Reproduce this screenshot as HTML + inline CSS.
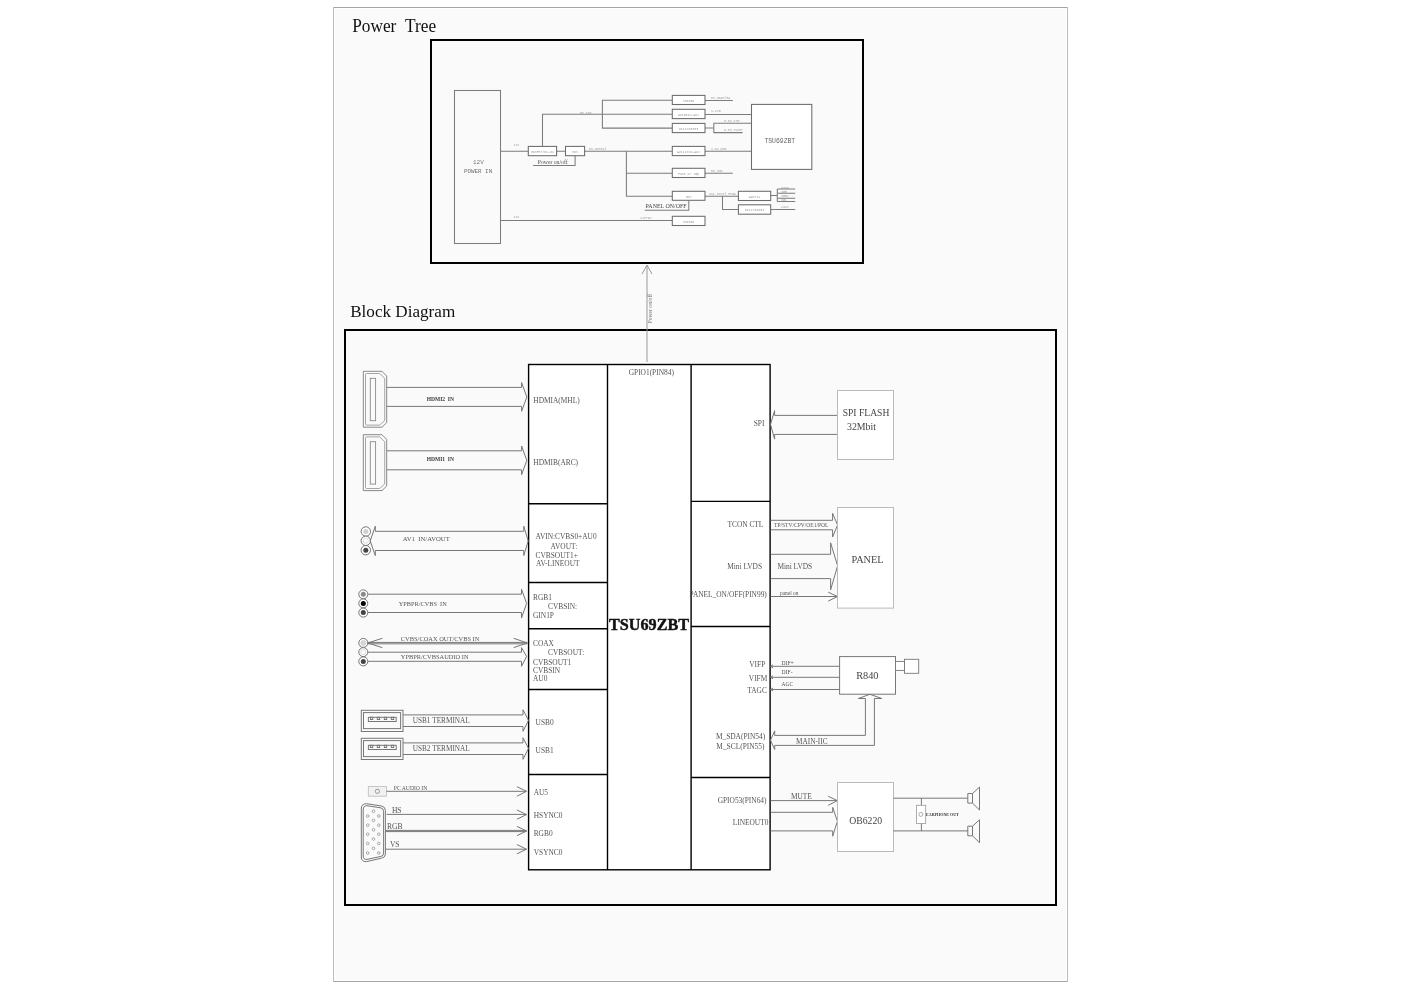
<!DOCTYPE html>
<html><head><meta charset="utf-8"><title>Power Tree / Block Diagram</title>
<style>
html,body{margin:0;padding:0;background:#fff;width:1404px;height:992px;overflow:hidden}
svg{display:block;position:absolute;left:0;top:0;will-change:transform}
svg{font-family:"Liberation Serif",serif}
.mono,.mono text{font-family:"Liberation Mono",monospace}
.ln{stroke:#777;stroke-width:1;fill:none}
.lp{stroke:#7c7c7c;stroke-width:1.05;fill:none}
.bx{stroke:#6c6c6c;stroke-width:1.05;fill:#fff}
.k{stroke:#000;fill:none}
.t{fill:#555}
</style></head>
<body>
<svg width="1404" height="992" viewBox="0 0 1404 992">
<!-- page frame -->
<rect x="333" y="7" width="735" height="975" fill="#fff"/>
<path d="M333 7.5H1068M333 981.5H1068" stroke="#a4a4a4" stroke-width="1"/>
<path d="M333.5 7V982M1067.5 7V982" stroke="#bcbcbc" stroke-width="1"/>
<rect x="335" y="9" width="731" height="971" fill="#fafafa"/>

<!-- titles -->
<text x="352.2" y="31.9" font-size="17.8" fill="#111" textLength="83.9" lengthAdjust="spacingAndGlyphs">Power&#160;&#160;Tree</text>
<text x="350.2" y="316.6" font-size="17.4" fill="#111" textLength="105" lengthAdjust="spacingAndGlyphs">Block Diagram</text>

<!-- big frames -->
<rect x="431" y="40" width="432" height="223" class="k" stroke-width="2"/>
<rect x="345" y="330" width="711" height="575" class="k" stroke-width="2"/>

<!-- POWER_TREE -->
<g class="lp">
<rect x="454.5" y="90.5" width="46" height="153"/>
<path d="M500.5 151.3H528.3M556.6 151.3H565.5M584.6 151.3H672.3M542.5 146.4V114.3H672.3"/>
<path d="M533.1 165.5H575.1V155.7"/>
<path d="M672.3 100.3H602.4V128.1H672.3"/>
<path d="M626.4 151.3V196.3H672.3M626.4 173.2H672.3"/>
<path d="M500.5 220.5H672.3"/>
<path d="M644.7 210.2H688.8V200.3"/>
<path d="M705 100.4H732.8M705 114.4H751.5M705 128H713.8M742.6 132.6H713.8V123.2H751.5M705 151.3H751.5M705 173.2H732.8M705 196.3H738.4M722.5 196.3V209.4H738.4"/>
<path d="M770.7 195.5H777.3M777.3 189V201.4M777.3 189H795.2M777.3 193.3H795.2M777.3 198.2H795.2M777.3 201.4H795.2M770.7 209.4H795.2"/>
</g>
<g class="bx">
<rect x="528.3" y="146.4" width="28.3" height="9.3"/>
<rect x="565.5" y="146.4" width="19.1" height="9.3"/>
<rect x="672.3" y="95.4" width="32.7" height="9.1"/>
<rect x="672.3" y="109.3" width="32.7" height="9.3"/>
<rect x="672.3" y="123.4" width="32.7" height="9.2"/>
<rect x="672.3" y="146.4" width="32.7" height="9.2"/>
<rect x="672.3" y="168.3" width="32.7" height="9.2"/>
<rect x="672.3" y="191.3" width="32.7" height="9"/>
<rect x="672.3" y="216.3" width="32.7" height="9.2"/>
<rect x="751.5" y="104.4" width="60.3" height="65"/>
<rect x="738.4" y="191.3" width="32.3" height="9.2"/>
<rect x="738.4" y="204.8" width="32.3" height="9.4"/>
</g>
<g class="mono" fill="#666" font-size="6">
<text x="478.4" y="163.8" text-anchor="middle" fill="#7a7a7a">12V</text>
<text x="478.05" y="173" text-anchor="middle" fill="#707070" textLength="28.3" lengthAdjust="spacingAndGlyphs">POWER IN</text>
<text x="779.8" y="143" text-anchor="middle" font-size="6.4">TSU69ZBT</text>
</g>
<g class="mono" fill="#999" font-size="3.2">
<text x="513.5" y="145.8">12V</text>
<text x="513.5" y="218">12V</text>
<text x="580" y="113.5">5V_STB</text>
<text x="589" y="149.5">5V_Normal</text>
<text x="711" y="98.5">5V_MAIN/3A</text>
<text x="711" y="112.4">1.2VD</text>
<text x="724" y="121.5">3.3V_STB</text>
<text x="724" y="130.8">3.3V_Tuner</text>
<text x="711" y="149.5">1.8V_DDR</text>
<text x="711" y="171.5">5V_USB</text>
<text x="709" y="194.5">VCC_Panel_FIOW</text>
<text x="640" y="218.5">12VT1N</text>
<text x="781" y="188.5">AVDD</text>
<text x="781" y="192.6">VGH</text>
<text x="781" y="197.2">VGHX</text>
<text x="781" y="200.6">VGL</text>
<text x="781" y="207.6">24VX</text>
<text x="688.5" y="102.2" text-anchor="middle">SM4509</text>
<text x="688.5" y="115.9" text-anchor="middle">AZ1084S-ADJ</text>
<text x="688.5" y="130" text-anchor="middle">DC1170ZZ03</text>
<text x="688.5" y="152.9" text-anchor="middle">AZ1117CD-ADJ</text>
<text x="688.5" y="174.9" text-anchor="middle">FUSE or Jmp</text>
<text x="688.5" y="197.8" text-anchor="middle">MOS</text>
<text x="688.5" y="222.9" text-anchor="middle">SM4509</text>
<text x="542.4" y="152.5" text-anchor="middle">MOSFET/DC-DC</text>
<text x="575" y="153" text-anchor="middle">MOS</text>
<text x="754.5" y="197.7" text-anchor="middle">AAM711</text>
<text x="754.5" y="211.3" text-anchor="middle">DC1170ZZ03</text>
</g>
<text x="537.8" y="164" font-size="6" fill="#555" textLength="29.8" lengthAdjust="spacingAndGlyphs">Power on/off</text>
<text x="645.6" y="208.2" font-size="6.8" fill="#444" textLength="41" lengthAdjust="spacingAndGlyphs">PANEL ON/OFF</text>
<path d="M647 265V362M642 274.1L647 265L652 274.1" stroke="#9a9a9a" stroke-width="1" fill="none"/>
<text transform="translate(652.3,323.5) rotate(-90)" font-size="5.6" fill="#707070" textLength="29.6" lengthAdjust="spacingAndGlyphs">Power on/off</text>


<!-- BLOCK_DIAGRAM -->
<rect x="528.6" y="364.5" width="241.5" height="505.3" fill="#fff" stroke="#000" stroke-width="1.4"/>
<path d="M607.5 364.5V869.8M691.1 364.5V869.8M528.5 503.8H607.5M528.5 582.5H607.5M528.5 628.8H607.5M528.5 689.5H607.5M528.5 774.5H607.5M691.1 501.4H770.1M691.1 626.5H770.1M691.1 777.5H770.1" stroke="#000" stroke-width="1.4" fill="none"/>
<text x="533.3" y="402.6" font-size="7.4" fill="#555">HDMIA(MHL)</text>
<text x="533.3" y="465" font-size="7.4" fill="#555">HDMIB(ARC)</text>
<text x="535.5" y="539.3" font-size="7.4" fill="#555">AVIN:CVBS0+AU0</text>
<text x="550.6" y="549" font-size="7.4" fill="#555">AVOUT:</text>
<text x="535.5" y="558" font-size="7.4" fill="#555">CVBSOUT1+</text>
<text x="536" y="565.7" font-size="7.4" fill="#555">AV-LINEOUT</text>
<text x="533" y="600" font-size="7.4" fill="#555">RGB1</text>
<text x="548" y="609.1" font-size="7.4" fill="#555">CVBSIN:</text>
<text x="533" y="618.1" font-size="7.4" fill="#555">GIN1P</text>
<text x="533" y="646.1" font-size="7.4" fill="#555">COAX</text>
<text x="548" y="655.2" font-size="7.4" fill="#555">CVBSOUT:</text>
<text x="533" y="664.5" font-size="7.4" fill="#555">CVBSOUT1</text>
<text x="533" y="673" font-size="7.4" fill="#555">CVBSIN</text>
<text x="533" y="680.6" font-size="7.4" fill="#555">AU0</text>
<text x="535.6" y="725.3" font-size="7.4" fill="#555">USB0</text>
<text x="535.6" y="752.8" font-size="7.4" fill="#555">USB1</text>
<text x="533.7" y="794.5" font-size="7.4" fill="#555">AU5</text>
<text x="533.7" y="817.6" font-size="7.4" fill="#555">HSYNC0</text>
<text x="533.7" y="835.9" font-size="7.4" fill="#555">RGB0</text>
<text x="533.7" y="854.7" font-size="7.4" fill="#555">VSYNC0</text>
<text x="628.7" y="374.8" font-size="7.4" fill="#555">GPIO1(PIN84)</text>
<text x="609" y="629.9" font-size="17.4" fill="#111" font-weight="bold" stroke="#111" stroke-width="0.45" textLength="80" lengthAdjust="spacingAndGlyphs">TSU69ZBT</text>
<text x="764.4" y="425.7" font-size="7.4" fill="#555" text-anchor="end">SPI</text>
<text x="763.4" y="526.5" font-size="7.4" fill="#555" text-anchor="end">TCON CTL</text>
<text x="762" y="569" font-size="7.4" fill="#555" text-anchor="end">Mini LVDS</text>
<text x="766.8" y="596.7" font-size="7.4" fill="#555" text-anchor="end">PANEL_ON/OFF(PIN99)</text>
<text x="765.3" y="667" font-size="7.4" fill="#555" text-anchor="end">VIFP</text>
<text x="767.3" y="681.2" font-size="7.4" fill="#555" text-anchor="end">VIFM</text>
<text x="766.9" y="692.6" font-size="7.4" fill="#555" text-anchor="end">TAGC</text>
<text x="765.2" y="738.8" font-size="7.4" fill="#555" text-anchor="end">M_SDA(PIN54)</text>
<text x="764.4" y="748.6" font-size="7.4" fill="#555" text-anchor="end">M_SCL(PIN55)</text>
<text x="766.5" y="802.5" font-size="7.4" fill="#555" text-anchor="end">GPIO53(PIN64)</text>
<text x="768.4" y="824.5" font-size="7.4" fill="#555" text-anchor="end">LINEOUT0</text>
<path fill="none" stroke="#7a7a7a" stroke-width="0.9" d="M363.3 371.3 H382 L386.7 376 V422.6 L382 427.2 H363.3 Z"/>
<path fill="none" stroke="#9c9c9c" stroke-width="0.9" d="M366.5 373.5 H379.6 L384.7 378.3 V420.6 L379.6 425.1 H366.5 Q365.5 425.1 365.5 424.1 V374.5 Q365.5 373.5 366.5 373.5 Z"/>
<rect fill="none" stroke="#8a8a8a" stroke-width="0.9" x="370.3" y="378.3" width="5.3" height="42.4"/>
<path class="ln" d="M386.7 387.4H521.6V382.6L526.8 397L521.6 411.3V406.4H386.7"/>
<path fill="none" stroke="#7a7a7a" stroke-width="0.9" d="M363.3 434.7 H382 L386.7 439.4 V486 L382 490.6 H363.3 Z"/>
<path fill="none" stroke="#9c9c9c" stroke-width="0.9" d="M366.5 436.9 H379.6 L384.7 441.7 V484 L379.6 488.5 H366.5 Q365.5 488.5 365.5 487.5 V437.9 Q365.5 436.9 366.5 436.9 Z"/>
<rect fill="none" stroke="#8a8a8a" stroke-width="0.9" x="370.3" y="441.7" width="5.3" height="42.4"/>
<path class="ln" d="M386.7 450.8H521.6V446L526.8 460.4L521.6 474.7V469.8H386.7"/>
<text x="426.7" y="400.8" font-size="6.9" fill="#3a3a3a" font-weight="bold" textLength="27.3" lengthAdjust="spacingAndGlyphs">HDMI2&#160;&#160;IN</text>
<text x="426.7" y="460.8" font-size="6.9" fill="#3a3a3a" font-weight="bold" textLength="27.3" lengthAdjust="spacingAndGlyphs">HDMI1&#160;&#160;IN</text>
<circle cx="365.8" cy="531.5" r="4.7" fill="#fff" stroke="#666" stroke-width="0.9"/>
<circle cx="365.8" cy="531.5" r="2.5" fill="#d0d0d0" stroke="none"/>
<circle cx="365.8" cy="540.8" r="4.7" fill="#fff" stroke="#666" stroke-width="0.9"/>
<circle cx="365.8" cy="540.8" r="2.5" fill="#fff" stroke="#c4c4c4" stroke-width="0.6"/>
<circle cx="365.8" cy="550.2" r="4.7" fill="#fff" stroke="#666" stroke-width="0.9"/>
<circle cx="365.8" cy="550.2" r="2.5" fill="#444" stroke="none"/>
<circle cx="363.3" cy="594.3" r="4.5" fill="#fff" stroke="#666" stroke-width="0.9"/>
<circle cx="363.3" cy="594.3" r="2.5" fill="#8a8a8a" stroke="none"/>
<circle cx="363.3" cy="603.4" r="4.5" fill="#fff" stroke="#666" stroke-width="0.9"/>
<circle cx="363.3" cy="603.4" r="2.5" fill="#000" stroke="none"/>
<circle cx="363.3" cy="612.6" r="4.5" fill="#fff" stroke="#666" stroke-width="0.9"/>
<circle cx="363.3" cy="612.6" r="2.5" fill="#444" stroke="none"/>
<circle cx="363.3" cy="642.9" r="4.5" fill="#fff" stroke="#666" stroke-width="0.9"/>
<circle cx="363.3" cy="642.9" r="2.5" fill="#d8d8d8" stroke="#c4c4c4" stroke-width="0.6"/>
<circle cx="363.3" cy="652.1" r="4.5" fill="#fff" stroke="#666" stroke-width="0.9"/>
<circle cx="363.3" cy="652.1" r="2.5" fill="#fff" stroke="#c4c4c4" stroke-width="0.6"/>
<circle cx="363.3" cy="661.4" r="4.5" fill="#fff" stroke="#666" stroke-width="0.9"/>
<circle cx="363.3" cy="661.4" r="2.5" fill="#444" stroke="none"/>
<path class="ln" d="M375.3 531.3H523.8V526.2L528.2 540.9L523.8 555.5V550.5H375.3V555.6L370.2 540.9L375.3 526.2Z"/>
<text x="402.8" y="541" font-size="6.5" fill="#555" textLength="47" lengthAdjust="spacingAndGlyphs">AV1&#160;&#160;IN/AVOUT</text>
<path class="ln" d="M368 594.2H521.5V589.1L526.6 603.4L521.5 618V612.5H368"/>
<text x="398.8" y="605.9" font-size="6.3" fill="#555">YPBPR/CVBS&#160;&#160;IN</text>
<path class="ln" d="M367.7 642.4H527.4M367.7 643.8H527.4M382.3 638.3L367.7 643L382.3 647.6M513.7 638.3L527.4 643L513.7 647.6"/>
<text x="400.8" y="641.4" font-size="6.3" fill="#555" textLength="78.6" lengthAdjust="spacingAndGlyphs">CVBS/COAX OUT/CVBS IN</text>
<path class="ln" d="M368 652.2H521.5V647.6L526.6 656.5L521.5 666.3V661.3H368"/>
<text x="400.8" y="659.4" font-size="6.3" fill="#555" textLength="67.7" lengthAdjust="spacingAndGlyphs">YPBPR/CVBSAUDIO IN</text>
<rect class="ln" stroke-width="0.9" x="361.3" y="710.3" width="41.7" height="21.2"/>
<rect class="ln" stroke-width="0.9" x="363.5" y="712.6" width="37.1" height="16"/>
<rect class="ln" stroke-width="0.9" x="368.4" y="717.3" width="27.8" height="4.2"/>
<rect class="ln" stroke-width="0.7" x="370.45" y="717.3" width="2.3" height="2.2"/>
<rect class="ln" stroke-width="0.7" x="377.35" y="717.3" width="2.3" height="2.2"/>
<rect class="ln" stroke-width="0.7" x="384.35" y="717.3" width="2.3" height="2.2"/>
<rect class="ln" stroke-width="0.7" x="391.35" y="717.3" width="2.3" height="2.2"/>
<path class="ln" d="M403 714.9H523V709.8L528.5 720.4L523 731.3V726.5H403"/>
<text x="412.7" y="722.9" font-size="8.3" fill="#555" textLength="57.1" lengthAdjust="spacingAndGlyphs">USB1 TERMINAL</text>
<rect class="ln" stroke-width="0.9" x="361.3" y="738.3" width="41.7" height="21.2"/>
<rect class="ln" stroke-width="0.9" x="363.5" y="740.6" width="37.1" height="16"/>
<rect class="ln" stroke-width="0.9" x="368.4" y="745.3" width="27.8" height="4.2"/>
<rect class="ln" stroke-width="0.7" x="370.45" y="745.3" width="2.3" height="2.2"/>
<rect class="ln" stroke-width="0.7" x="377.35" y="745.3" width="2.3" height="2.2"/>
<rect class="ln" stroke-width="0.7" x="384.35" y="745.3" width="2.3" height="2.2"/>
<rect class="ln" stroke-width="0.7" x="391.35" y="745.3" width="2.3" height="2.2"/>
<path class="ln" d="M403 742.9H523V737.8L528.5 748.4L523 759.3V754.5H403"/>
<text x="412.7" y="750.9" font-size="8.3" fill="#555" textLength="57.1" lengthAdjust="spacingAndGlyphs">USB2 TERMINAL</text>
<rect x="368.3" y="786.5" width="18.2" height="9.7" fill="#f1f1f1" stroke="#bbb" stroke-width="0.8"/>
<circle cx="377.4" cy="791.3" r="2.1" fill="none" stroke="#777" stroke-width="0.7"/>
<path class="ln" d="M386.5 791.3H526.5M517 786.7L526.5 791.3L517 796.2"/>
<text x="393.8" y="789.8" font-size="5.5" fill="#555" textLength="33.5" lengthAdjust="spacingAndGlyphs">PC AUDIO IN</text>
<path class="ln" stroke-width="0.9" d="M361.3 809 Q361.3 803.5 366.5 803.7 L381.5 806 Q385.4 806.8 385.4 810.5 V854 Q385.4 857.5 381.5 858.2 L366.5 861.6 Q361.3 862 361.3 857 Z"/>
<path class="ln" stroke-width="0.9" d="M363.2 810 Q363.2 805.6 367 805.7 L381 807.9 Q383.6 808.5 383.6 811.5 V853 Q383.6 856 381 856.4 L367 859.4 Q363.2 859.8 363.2 856 Z"/>
<circle cx="367.7" cy="816" r="1.35" fill="none" stroke="#777" stroke-width="0.6"/>
<circle cx="367.7" cy="825.2" r="1.35" fill="none" stroke="#777" stroke-width="0.6"/>
<circle cx="367.7" cy="834.2" r="1.35" fill="none" stroke="#777" stroke-width="0.6"/>
<circle cx="367.7" cy="843.5" r="1.35" fill="none" stroke="#777" stroke-width="0.6"/>
<circle cx="367.7" cy="853" r="1.35" fill="none" stroke="#777" stroke-width="0.6"/>
<circle cx="373.5" cy="811.2" r="1.35" fill="none" stroke="#777" stroke-width="0.6"/>
<circle cx="373.5" cy="820.4" r="1.35" fill="none" stroke="#777" stroke-width="0.6"/>
<circle cx="373.5" cy="829.8" r="1.35" fill="none" stroke="#777" stroke-width="0.6"/>
<circle cx="373.5" cy="839" r="1.35" fill="none" stroke="#777" stroke-width="0.6"/>
<circle cx="373.5" cy="848.3" r="1.35" fill="none" stroke="#777" stroke-width="0.6"/>
<circle cx="378.8" cy="816" r="1.35" fill="none" stroke="#777" stroke-width="0.6"/>
<circle cx="378.8" cy="825.2" r="1.35" fill="none" stroke="#777" stroke-width="0.6"/>
<circle cx="378.8" cy="834.2" r="1.35" fill="none" stroke="#777" stroke-width="0.6"/>
<circle cx="378.8" cy="843.5" r="1.35" fill="none" stroke="#777" stroke-width="0.6"/>
<circle cx="378.8" cy="853" r="1.35" fill="none" stroke="#777" stroke-width="0.6"/>
<path class="ln" d="M386.6 814.4H526.5M517 810L526.5 814.6L517 819.2"/>
<path class="ln" d="M385.6 830.4H526.5M385.6 831.6H526.5M517 826.4L526.5 831L517 835.6"/>
<path class="ln" d="M385.6 849.2H526.5M517 844.6L526.5 849.2L517 853.8"/>
<text x="391.9" y="812.6" font-size="7.6" fill="#555">HS</text>
<text x="386.9" y="828.7" font-size="7.6" fill="#555">RGB</text>
<text x="389.9" y="847.3" font-size="7.6" fill="#555">VS</text>
<path class="ln" d="M837.4 415.4H774.6V410.7L770.5 424.4L774.6 439.1V434.4H837.4"/>
<rect x="837.5" y="390.5" width="56" height="69" fill="#fff" stroke="#bbb" stroke-width="1"/>
<text x="842.7" y="416.2" font-size="10.3" fill="#444" textLength="46.7" lengthAdjust="spacingAndGlyphs">SPI FLASH</text>
<text x="847" y="430.3" font-size="10.3" fill="#444" textLength="29" lengthAdjust="spacingAndGlyphs">32Mbit</text>
<path class="ln" d="M770.6 520.3H832.6V513.3L837.6 525L832.6 537V529.8H770.6"/>
<text x="774" y="526.9" font-size="5.6" fill="#555" textLength="54.4" lengthAdjust="spacingAndGlyphs">TP/STV/CPV/OE1/POL</text>
<path class="ln" d="M770.6 554.3H830.6V542.8L837.6 565.8L830.6 589.8V578.6H770.6"/>
<text x="777.4" y="569" font-size="7.4" fill="#555">Mini LVDS</text>
<path class="ln" d="M770.6 596.5H837.5M828.2 592.2L837.5 596.5L828.2 601.1"/>
<text x="780" y="595" font-size="5.3" fill="#555" textLength="18.4" lengthAdjust="spacingAndGlyphs">panel on</text>
<rect x="837.5" y="507.5" width="56" height="100.6" fill="#fff" stroke="#bbb" stroke-width="1"/>
<text x="851.4" y="563" font-size="10.3" fill="#444">PANEL</text>
<path class="ln" d="M770.6 666.3H839.8M770.6 677.3H839.8M770.6 689.5H839.8"/>
<path class="ln" d="M773 664.8L770.6 666.3L773 667.8" stroke-width="0.7"/>
<path class="ln" d="M773 675.8L770.6 677.3L773 678.8" stroke-width="0.7"/>
<path class="ln" d="M773 688L770.6 689.5L773 691" stroke-width="0.7"/>
<text x="781.6" y="665" font-size="6" fill="#555" textLength="12.1" lengthAdjust="spacingAndGlyphs">DIF+</text>
<text x="781.6" y="674" font-size="6" fill="#555" textLength="11" lengthAdjust="spacingAndGlyphs">DIF-</text>
<text x="781.6" y="685.5" font-size="6" fill="#555" textLength="11.5" lengthAdjust="spacingAndGlyphs">AGC</text>
<rect x="839.6" y="656.6" width="55.9" height="37.6" fill="#fff" stroke="#777" stroke-width="1"/>
<text x="867.3" y="679.4" font-size="10.3" fill="#444" text-anchor="middle">R840</text>
<rect x="895.5" y="661.4" width="9" height="9" fill="#fff" stroke="#777" stroke-width="0.9"/>
<rect x="904.5" y="659.3" width="14.2" height="14" fill="#fff" stroke="#777" stroke-width="0.9"/>
<path class="ln" d="M865.4 735.4V698.5H858.3L869.9 694.3L881.8 698.5H874.4V745.4H774.7V749.5L770.5 740.2L774.7 730.9V735.4Z"/>
<text x="796" y="744.3" font-size="7.6" fill="#555" textLength="31.6" lengthAdjust="spacingAndGlyphs">MAIN-IIC</text>
<path class="ln" d="M770.6 800.6H837.4M828.2 796.3L837.4 800.6L828.2 805.3"/>
<text x="790.9" y="798.9" font-size="7.2" fill="#555" textLength="20.9" lengthAdjust="spacingAndGlyphs">MUTE</text>
<path class="ln" d="M770.6 812.3H832.7V807.4L837.4 821.3L832.7 836.2V830.9H770.6"/>
<rect x="837.5" y="782.5" width="56" height="69" fill="#fff" stroke="#bbb" stroke-width="1"/>
<text x="849.2" y="824.2" font-size="10.3" fill="#444" textLength="33" lengthAdjust="spacingAndGlyphs">OB6220</text>
<path class="ln" d="M893.4 798.2H967.8M893.4 830.9H967.8M921.4 798.2V805.3M921.4 823.4V830.9"/>
<rect x="916.5" y="805.3" width="9.2" height="18.1" fill="#fff" stroke="#999" stroke-width="0.8"/>
<circle cx="920.8" cy="814.4" r="2" fill="none" stroke="#777" stroke-width="0.6"/>
<text x="926.1" y="815.8" font-size="4" fill="#333" font-weight="bold" textLength="32.7" lengthAdjust="spacingAndGlyphs">EARPHONE OUT</text>
<path class="ln" d="M967.8 793.5H972.5V803.1H967.8Z M972.5 793.5L979.5 787.1V810L972.5 803.1"/>
<path class="ln" d="M967.8 826.2H972.5V835.8H967.8Z M972.5 826.2L979.5 819.8V842.7L972.5 835.8"/>

<!-- END_BD -->
</svg>
</body></html>
